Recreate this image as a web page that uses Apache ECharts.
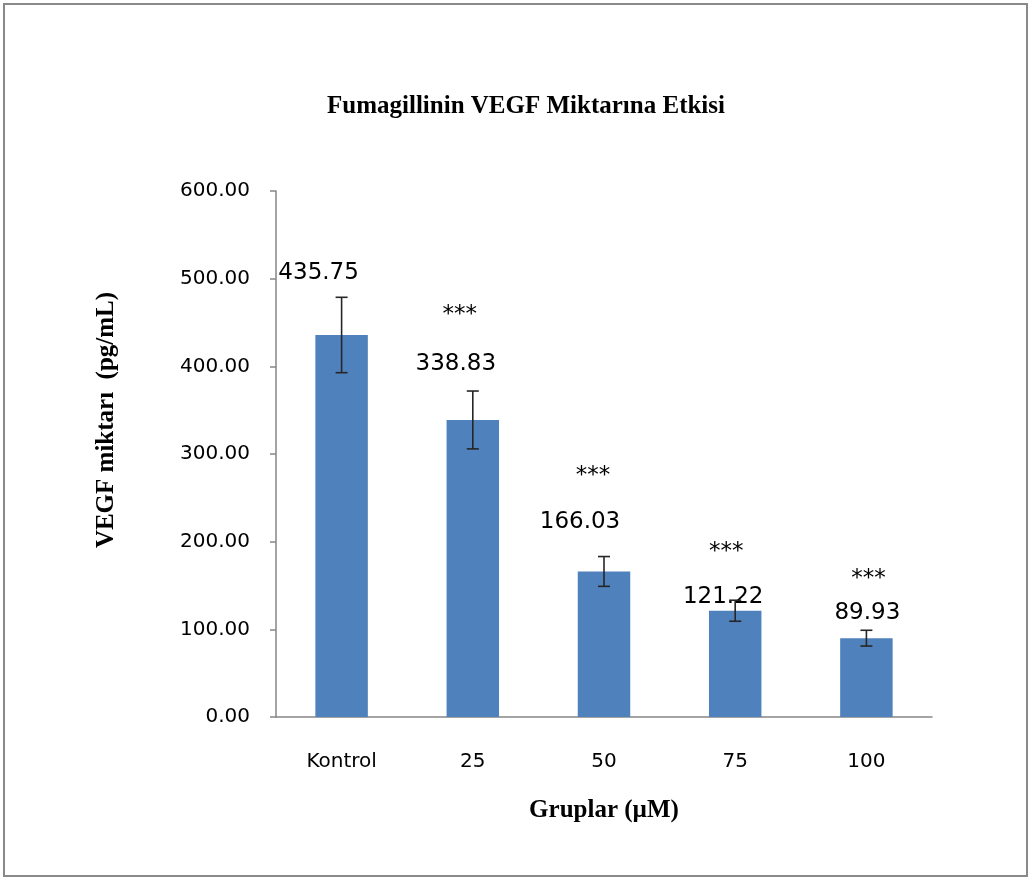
<!DOCTYPE html>
<html lang="tr">
<head>
    <meta charset="UTF-8">
    <title>Fumagillinin VEGF Miktarına Etkisi</title>
    <style>
        * {
            margin: 0;
            padding: 0;
        }

        body {
            background: #fff;
        }

        .frame {
            position: absolute;
            left: 3px;
            top: 3px;
            width: 1021px;
            height: 870px;
            border: 2px solid #8a8a8a;
        }

        #main {
            position: absolute;
            left: 0;
            top: 0;
            width: 1030px;
            height: 880px;
        }
    </style>
</head>
<body>
    <div class="frame"></div>
    <div id="main"></div>
</body>
<script src="https://cdn.jsdelivr.net/npm/echarts@6/dist/echarts.min.js"></script>
<script>
    // data
    let groups = ['Kontrol', '25', '50', '75', '100'];
    let vegf = [435.75, 338.83, 166.03, 121.22, 89.93];
    let errors = [43, 33, 17, 12, 9];
    let marks = ['', '***', '***', '***', '***'];
    let yTicks = [0, 100, 200, 300, 400, 500, 600];

    // pixel nudges of labels (the original labels were moved by hand)
    let labelOffset = [[-23, -50], [-17, -44], [-24, -38], [-12, -2], [1, -14]];
    let starOffset = [[0, 0], [-13, -105], [-11, -95], [-9, -59], [2, -59]];

    let barData = vegf.map((v, i) => {
        return {
            value: v,
            label: {
                offset: labelOffset[i]
            }
        }
    })
    let errData = vegf.map((v, i) => [i, v, errors[i]]);

    let option = {
        animation: false,
        title: {
            text: 'Fumagillinin VEGF Miktarına Etkisi',
            left: 521,
            top: 89,
            textAlign: 'center',
            textStyle: {
                fontFamily: 'Liberation Serif',
                fontWeight: 'bold',
                fontSize: 25,
                color: '#000'
            }
        },
        grid: {
            left: 276,
            right: 98,
            top: 191,
            bottom: 163
        },
        xAxis: {
            type: 'category',
            data: groups,
            name: 'Gruplar (µM)',
            nameLocation: 'middle',
            nameGap: 81,
            nameTextStyle: {
                fontFamily: 'Liberation Serif',
                fontWeight: 'bold',
                fontSize: 25,
                color: '#000'
            },
            axisLine: {
                lineStyle: {
                    color: '#868686',
                    width: 1.5
                }
            },
            axisTick: {
                length: 6,
                lineStyle: {
                    color: '#868686',
                    width: 1.5
                }
            },
            axisLabel: {
                margin: 35,
                fontFamily: 'DejaVu Sans',
                fontSize: 20,
                color: '#000'
            }
        },
        yAxis: {
            type: 'value',
            min: yTicks[0],
            max: yTicks[yTicks.length - 1],
            interval: 100,
            name: 'VEGF miktarı  (pg/mL)',
            nameLocation: 'middle',
            nameGap: 157,
            nameTextStyle: {
                fontFamily: 'Liberation Serif',
                fontWeight: 'bold',
                fontSize: 25,
                color: '#000',
                padding: [0, 0, 0, 68]
            },
            splitLine: {
                show: false
            },
            axisLine: {
                show: true,
                lineStyle: {
                    color: '#868686',
                    width: 1.5
                }
            },
            axisTick: {
                show: true,
                length: 6,
                lineStyle: {
                    color: '#868686',
                    width: 1.5
                }
            },
            axisLabel: {
                margin: 26,
                fontFamily: 'DejaVu Sans',
                fontSize: 20,
                color: '#000',
                formatter: v => v.toFixed(2)
            }
        },
        series: [
            {
                type: 'bar',
                data: barData,
                barWidth: '40%',
                itemStyle: {
                    color: '#4f81bd'
                },
                label: {
                    show: true,
                    position: 'top',
                    distance: 0,
                    fontFamily: 'DejaVu Sans',
                    fontSize: 23,
                    color: '#000',
                    formatter: p => p.value.toFixed(2)
                },
                z: 2
            },
            {
                type: 'custom',
                data: errData,
                encode: {
                    x: 0,
                    y: 1
                },
                z: 5,
                renderItem: function (params, api) {
                    let i = api.value(0);
                    let v = api.value(1);
                    let e = api.value(2);
                    let top = api.coord([i, v + e]);
                    let bot = api.coord([i, v - e]);
                    let base = api.coord([i, v]);
                    let cap = 6;
                    let st = {
                        stroke: '#262626',
                        lineWidth: 1.6
                    };
                    let children = [
                        {
                            type: 'line',
                            shape: { x1: top[0], y1: top[1], x2: bot[0], y2: bot[1] },
                            style: st
                        },
                        {
                            type: 'line',
                            shape: { x1: top[0] - cap, y1: top[1], x2: top[0] + cap, y2: top[1] },
                            style: st
                        },
                        {
                            type: 'line',
                            shape: { x1: bot[0] - cap, y1: bot[1], x2: bot[0] + cap, y2: bot[1] },
                            style: st
                        }
                    ];
                    let idx = params.dataIndex;
                    if (marks[idx]) {
                        children.push({
                            type: 'text',
                            x: base[0] + starOffset[idx][0],
                            y: base[1] + starOffset[idx][1],
                            style: {
                                text: marks[idx],
                                fontFamily: 'DejaVu Sans',
                                fontSize: 23,
                                fill: '#000',
                                align: 'center',
                                verticalAlign: 'middle'
                            }
                        });
                    }
                    return {
                        type: 'group',
                        children: children
                    };
                }
            }
        ]
    };
    initChart(option);

    function initChart(option) {
        let myCharts = echarts.init(document.getElementById('main'));
        myCharts.clear();
        myCharts.setOption(option);
        window.addEventListener('resize', () => {
            myCharts.resize();
        });
    }
</script>
</html>
